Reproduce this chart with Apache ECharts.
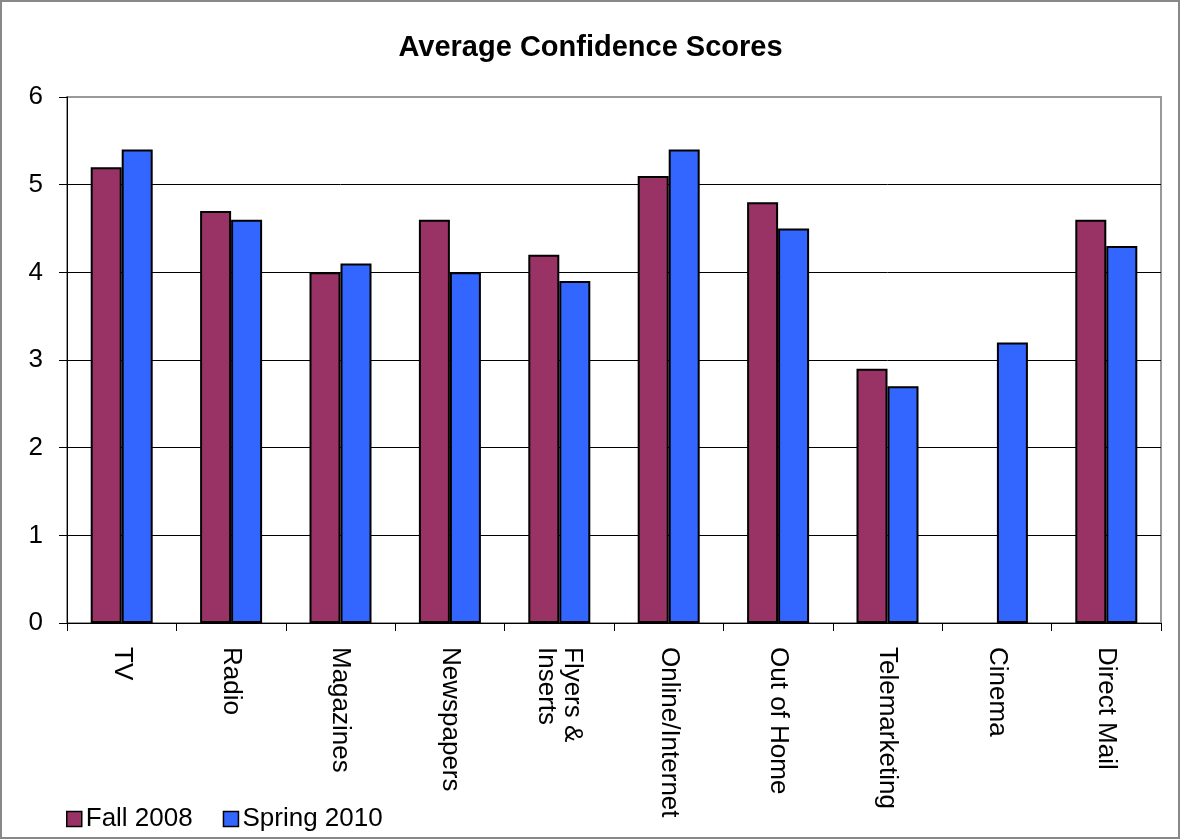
<!DOCTYPE html>
<html>
<head>
<meta charset="utf-8">
<script src="https://cdn.jsdelivr.net/npm/echarts@6/dist/echarts.min.js"></script>
<style>
  html, body { margin: 0; padding: 0; background: #fff; }
  #main { width: 1181px; height: 840px; }
</style>
</head>
<body>
<div id="main"></div>
<script>
// 数据
var categories = ['TV', 'Radio', 'Magazines', 'Newspapers', 'Flyers &\nInserts',
  'Online/Internet', 'Out of Home', 'Telemarketing', 'Cinema', 'Direct Mail'];
var fall2008 = [5.2, 4.7, 4.0, 4.6, 4.2, 5.1, 4.8, 2.9, null, 4.6];
var spring2010 = [5.4, 4.6, 4.1, 4.0, 3.9, 5.4, 4.5, 2.7, 3.2, 4.3];
var yTicks = [0, 1, 2, 3, 4, 5, 6];

var font = 'Liberation Sans, Arial, sans-serif';
var myChart = echarts.init(document.getElementById('main'));

var option = {
  animation: false,
  backgroundColor: '#fff',
  textStyle: { fontFamily: font, color: '#000' },
  title: {
    text: 'Average Confidence Scores',
    left: 'center',
    top: 28,
    textStyle: { fontFamily: font, fontSize: 29, fontWeight: 'bold', color: '#000' }
  },
  legend: {
    left: 61,
    top: 801,
    itemWidth: 15,
    itemHeight: 15,
    itemGap: 30,
    icon: 'rect',
    itemStyle: { borderColor: '#000', borderWidth: 1.5 },
    textStyle: { fontFamily: font, fontSize: 26, color: '#000', padding: [0, 0, 0, -1] },
    data: ['Fall 2008', 'Spring 2010']
  },
  grid: {
    left: 67, right: 20, top: 97, bottom: 217,
    show: true,
    borderColor: '#999',
    borderWidth: 2
  },
  graphic: [{
    type: 'rect',
    shape: { x: 1, y: 1, width: 1178, height: 837 },
    style: { fill: null, stroke: '#888', lineWidth: 2 },
    silent: true
  }],
  xAxis: {
    type: 'category',
    data: categories,
    axisLine: { lineStyle: { color: '#000', width: 1 } },
    axisTick: { show: true, length: 8, lineStyle: { color: '#000' } },
    axisLabel: {
      rotate: -90,
      margin: 24,
      interval: 0,
      fontFamily: font,
      fontSize: 26,
      color: '#000',
      lineHeight: 26
    }
  },
  yAxis: {
    type: 'value',
    min: yTicks[0],
    max: yTicks[yTicks.length - 1],
    interval: 1,
    axisLine: { show: true, lineStyle: { color: '#000', width: 1 } },
    axisTick: { show: true, length: 8, lineStyle: { color: '#000' } },
    axisLabel: { margin: 24, fontFamily: font, fontSize: 26, color: '#000' },
    splitLine: { show: true, showMaxLine: false, lineStyle: { color: '#000', width: 1 } }
  },
  series: [
    {
      name: 'Fall 2008',
      type: 'bar',
      data: fall2008,
      barWidth: 31,
      barGap: '0%',
      itemStyle: { color: '#993366', borderColor: '#000', borderWidth: 2 }
    },
    {
      name: 'Spring 2010',
      type: 'bar',
      data: spring2010,
      barWidth: 31,
      barGap: '0%',
      itemStyle: { color: '#3366FF', borderColor: '#000', borderWidth: 2 }
    }
  ]
};

myChart.setOption(option);
</script>
</body>
</html>
